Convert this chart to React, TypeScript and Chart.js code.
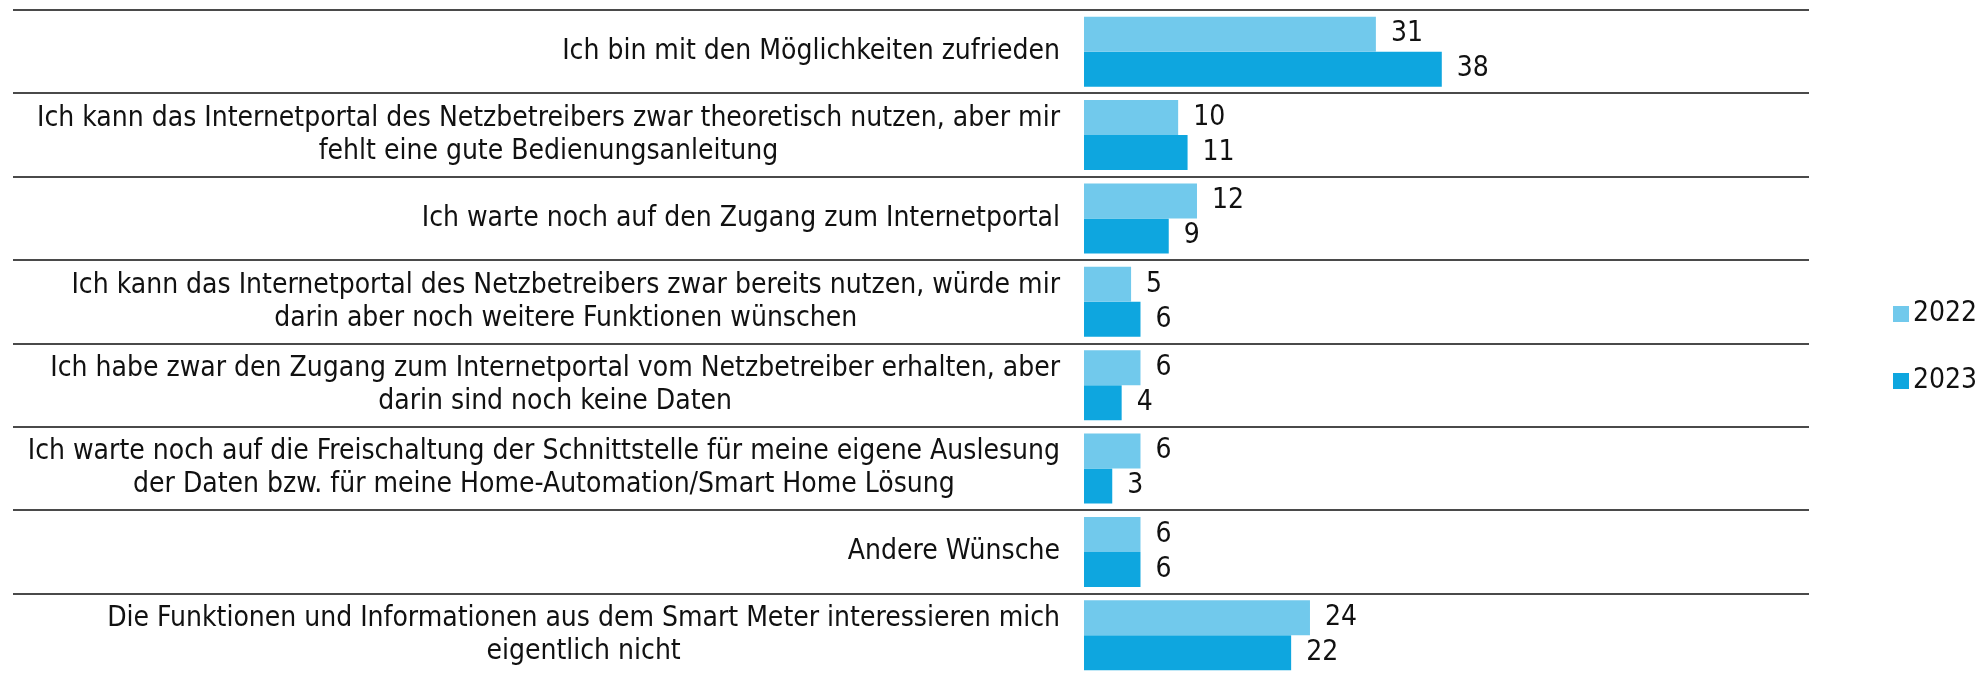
import React, { useEffect, useRef } from "react";
import { Chart, registerables } from "chart.js";

Chart.register(...registerables);

const categories: string[][] = [
  ["Ich bin mit den Möglichkeiten zufrieden"],
  ["Ich kann das Internetportal des Netzbetreibers zwar theoretisch nutzen, aber mir", "fehlt eine gute Bedienungsanleitung"],
  ["Ich warte noch auf den Zugang zum Internetportal"],
  ["Ich kann das Internetportal des Netzbetreibers zwar bereits nutzen, würde mir", "darin aber noch weitere Funktionen wünschen"],
  ["Ich habe zwar den Zugang zum Internetportal vom Netzbetreiber erhalten, aber", "darin sind noch keine Daten"],
  ["Ich warte noch auf die Freischaltung der Schnittstelle für meine eigene Auslesung", "der Daten bzw. für meine Home-Automation/Smart Home Lösung"],
  ["Andere Wünsche"],
  ["Die Funktionen und Informationen aus dem Smart Meter interessieren mich", "eigentlich nicht"],
];
const seriesNames = ["2022", "2023"];
const values2022 = [31, 10, 12, 5, 6, 6, 6, 24];
const values2023 = [38, 11, 9, 6, 4, 3, 6, 22];
const seriesColors = ["#71C9EC", "#0EA6DF"];
const axisMin = 0;
const axisMax = 77;

const FONT_FAMILY = '"DejaVu Sans Condensed", "DejaVu Sans", sans-serif';
const FONT_SIZE = 28;
const TEXT_COLOR = "#111111";
const LINE_COLOR = "#4a4a4a";

const separatorPlugin = {
  id: "separators",
  beforeDatasetsDraw(chart: any) {
    const { ctx, scales } = chart;
    const y = scales.y;
    const x = scales.x;
    const n = chart.data.labels.length;
    const band = y.getPixelForValue(1) - y.getPixelForValue(0);
    ctx.save();
    ctx.strokeStyle = LINE_COLOR;
    ctx.lineWidth = 2;
    for (let i = 0; i < n; i++) {
      const py = Math.round(y.getPixelForValue(i) - band / 2);
      ctx.beginPath();
      ctx.moveTo(y.left, py);
      ctx.lineTo(x.right, py);
      ctx.stroke();
    }
    ctx.restore();
  },
};

const categoryLabelPlugin = {
  id: "categoryLabels",
  afterDraw(chart: any) {
    const { ctx, scales } = chart;
    const y = scales.y;
    const labels = chart.data.labels as string[][];
    const lineHeight = FONT_SIZE * 1.18;
    ctx.save();
    ctx.font = `${FONT_SIZE}px ${FONT_FAMILY}`;
    ctx.fillStyle = TEXT_COLOR;
    ctx.textAlign = "center";
    ctx.textBaseline = "middle";
    labels.forEach((lines, i) => {
      const cy = y.getPixelForValue(i);
      const maxW = Math.max(...lines.map((l) => ctx.measureText(l).width));
      const cx = y.right - 24 - maxW / 2;
      lines.forEach((l, j) => {
        ctx.fillText(l, cx, cy + (j - (lines.length - 1) / 2) * lineHeight);
      });
    });
    ctx.restore();
  },
};

const valueLabelPlugin = {
  id: "valueLabels",
  afterDatasetsDraw(chart: any) {
    const { ctx } = chart;
    ctx.save();
    ctx.font = `${FONT_SIZE}px ${FONT_FAMILY}`;
    ctx.fillStyle = TEXT_COLOR;
    ctx.textAlign = "left";
    ctx.textBaseline = "middle";
    chart.data.datasets.forEach((ds: any, d: number) => {
      const meta = chart.getDatasetMeta(d);
      meta.data.forEach((el: any, i: number) => {
        ctx.fillText(String(ds.data[i]), el.x + 15, el.y);
      });
    });
    ctx.restore();
  },
};

const legendPlugin = {
  id: "sideLegend",
  afterDraw(chart: any) {
    const { ctx, chartArea } = chart;
    const cy = (chartArea.top + chartArea.bottom) / 2 + 4;
    const spacing = 67;
    const n = chart.data.datasets.length;
    ctx.save();
    ctx.font = `${FONT_SIZE}px ${FONT_FAMILY}`;
    ctx.textAlign = "left";
    ctx.textBaseline = "middle";
    chart.data.datasets.forEach((ds: any, i: number) => {
      const yy = cy + (i - (n - 1) / 2) * spacing;
      const bx = chartArea.right + 84;
      ctx.fillStyle = ds.backgroundColor;
      ctx.fillRect(bx, yy - 8, 16, 16);
      ctx.fillStyle = TEXT_COLOR;
      ctx.fillText(ds.label, bx + 20, yy);
    });
    ctx.restore();
  },
};

export default function App() {
  const canvasRef = useRef<HTMLCanvasElement | null>(null);

  useEffect(() => {
    if (!canvasRef.current) return;
    const chart = new Chart(canvasRef.current, {
      type: "bar",
      data: {
        labels: categories as any,
        datasets: [
          {
            label: seriesNames[0],
            data: values2022,
            backgroundColor: seriesColors[0],
            borderWidth: 0,
            barPercentage: 1,
            categoryPercentage: 0.84,
          },
          {
            label: seriesNames[1],
            data: values2023,
            backgroundColor: seriesColors[1],
            borderWidth: 0,
            barPercentage: 1,
            categoryPercentage: 0.84,
          },
        ],
      },
      options: {
        indexAxis: "y",
        animation: false,
        responsive: false,
        maintainAspectRatio: false,
        devicePixelRatio: 1,
        layout: { padding: { left: 13, top: 10, right: 175, bottom: 0 } },
        plugins: {
          legend: { display: false },
          tooltip: { enabled: false },
          title: { display: false },
        },
        scales: {
          x: {
            display: false,
            min: axisMin,
            max: axisMax,
          },
          y: {
            display: true,
            grid: { display: false },
            border: { display: false },
            ticks: { display: false },
            afterFit(scale: any) {
              scale.width = 1071;
            },
          },
        },
      },
      plugins: [separatorPlugin, categoryLabelPlugin, valueLabelPlugin, legendPlugin],
    });
    return () => chart.destroy();
  }, []);

  return (
    <div
      style={{
        position: "fixed",
        left: 0,
        top: 0,
        width: 1984,
        height: 677,
        overflow: "hidden",
        background: "#ffffff",
      }}
    >
      <canvas ref={canvasRef} width={1984} height={677} style={{ display: "block" }} />
    </div>
  );
}
